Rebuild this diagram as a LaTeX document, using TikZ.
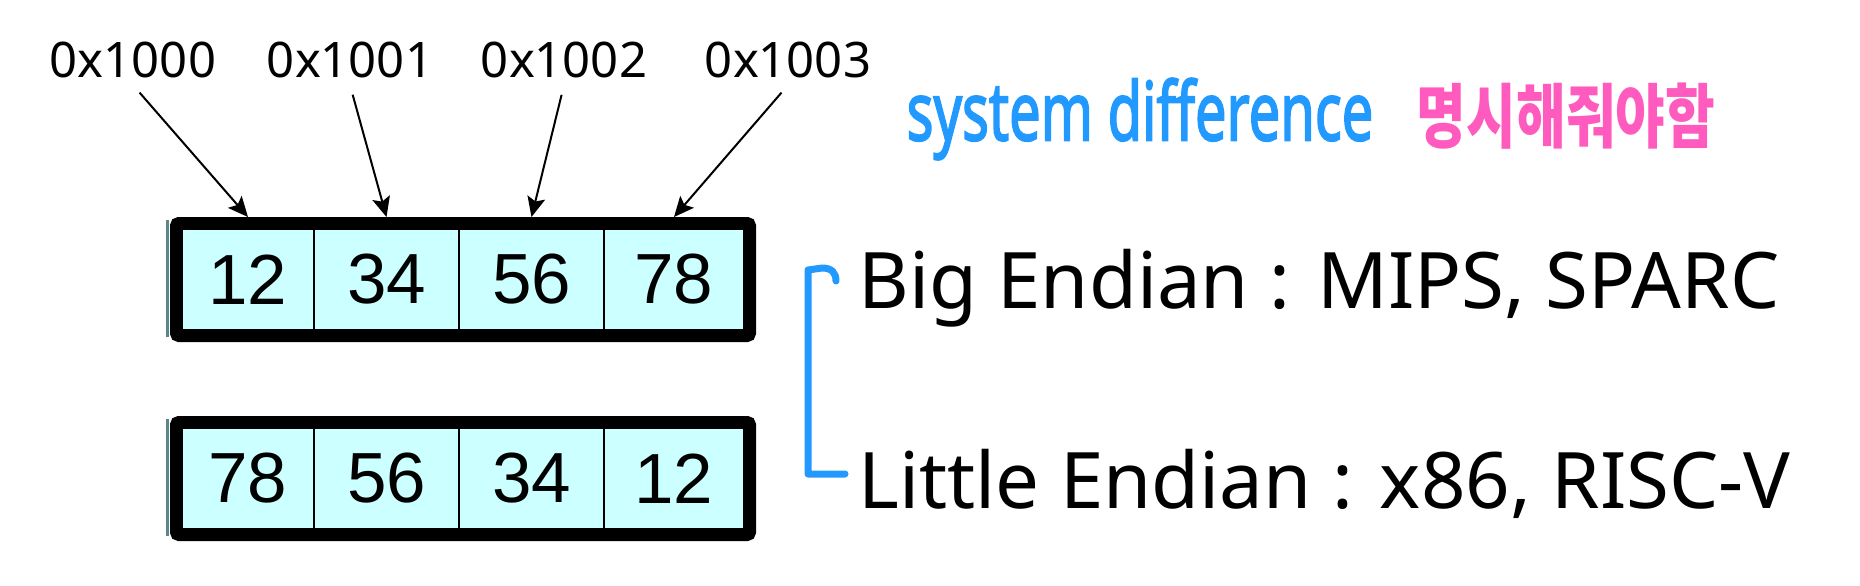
\documentclass[tikz,border=0pt]{standalone}
\usepackage{fontspec}
\usepackage{graphicx}
\setmainfont{Noto Sans}
\newfontfamily\cellfont{Liberation Sans}
\newfontfamily\penfont{Noto Sans}[FakeBold=2.5]
\newfontfamily\kofont{Noto Sans CJK KR}
\usetikzlibrary{arrows.meta,positioning,fit}

\definecolor{cellcyan}{RGB}{204,255,255}
\definecolor{penblue}{RGB}{34,153,255}
\definecolor{penpink}{RGB}{255,90,190}
\definecolor{edgeteal}{RGB}{90,135,135}

\begin{document}
\begin{tikzpicture}[
		x=0.5pt, y=-0.5pt,
		arrow/.style={-{Stealth[length=10pt,width=9pt,inset=2pt]}, line width=1pt, shorten <=5pt},
		addr/.style={font=\fontsize{24.5}{28}\selectfont},
		cell/.style={draw, line width=1pt, fill=cellcyan, outer sep=0pt, minimum height=50.5pt, font=\cellfont\fontsize{35.5}{40}\selectfont},
		frame/.style={draw, line width=6pt, rounded corners=1.5pt, inner sep=3pt},
		shade/.style={edgeteal, line width=1.3pt},
		endian/.style={anchor=base west, inner sep=0pt, font=\fontsize{39}{44}\selectfont},
	]
		\useasboundingbox (0,0) rectangle (1860,585);

		% addresses
		\node (a0) [addr] at (133,60) {0x1000};
		\node (a1) [addr] at (350,60) {0x1001};
		\node (a2) [addr] at (564,60) {0x1002};
		\node (a3) [addr] at (788,60) {0x1003};

		% big endian word
		\node (t1) [cell, minimum width=66pt] at (248,279.5) {12};
		\node (t2) [cell, minimum width=72.5pt, right=0pt of t1] {34};
		\node (t3) [cell, minimum width=72.5pt, right=0pt of t2] {56};
		\node (t4) [cell, minimum width=70pt, right=0pt of t3] {78};
		\node (tf) [frame, fit=(t1)(t4)] {};
		\draw[shade] ([xshift=-1.2pt,yshift=-1.5pt]tf.north west) -- ([xshift=-1.2pt,yshift=2.5pt]tf.south west);

		% little endian word
		\node (b1) [cell, minimum width=66pt] at (248,478.5) {78};
		\node (b2) [cell, minimum width=72.5pt, right=0pt of b1] {56};
		\node (b3) [cell, minimum width=72.5pt, right=0pt of b2] {34};
		\node (b4) [cell, minimum width=70pt, right=0pt of b3] {12};
		\node (bf) [frame, fit=(b1)(b4)] {};
		\draw[shade] ([xshift=-1.2pt,yshift=-1.5pt]bf.north west) -- ([xshift=-1.2pt,yshift=2.5pt]bf.south west);

		\draw[arrow] (a0.south) -- (t1.north |- tf.north);
		\draw[arrow] (a1.south) -- (t2.north |- tf.north);
		\draw[arrow] (a2.south) -- (t3.north |- tf.north);
		\draw[arrow] (a3.south) -- (t4.north |- tf.north);

		\node (big) [endian] at (858,308) {Big Endian : MIPS, SPARC};
		\node (little) [endian] at (858,508) {Little Endian : x86, RISC-V};

		% hand-written notes
		\coordinate (brtop) at (808,270);
		\coordinate (brbot) at (808,474);
		\draw[penblue, line width=3.5pt, line cap=round, line join=round]
			(836,281) .. controls (836,273) and (832,268) .. (822,268) -- (brtop) -- (brbot) -- (845,474);
		\node (sysdiff) [text=penblue, font=\penfont\fontsize{28}{32}\selectfont] at (1140,119) {\scalebox{1}[1.45]{system difference}};
		\node (note) [text=penpink, font=\kofont\bfseries\fontsize{27}{32}\selectfont] at (1566,116) {\scalebox{1}[1.3]{명시해줘야함}};
	\end{tikzpicture}
\end{document}
